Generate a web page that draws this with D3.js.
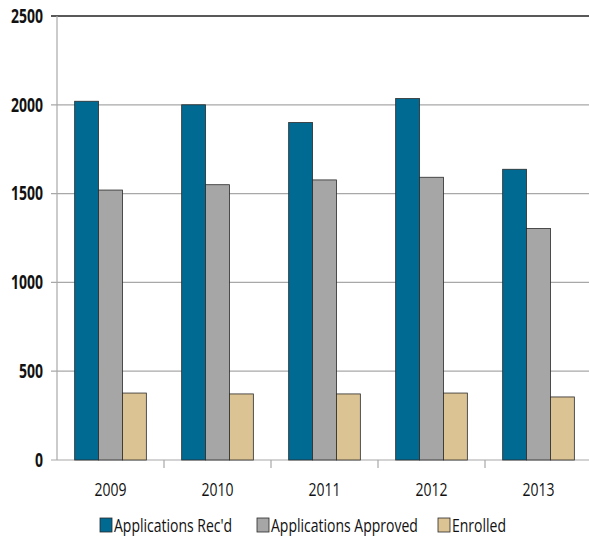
<!DOCTYPE html>
<html lang="en">
<head>
  <meta charset="UTF-8">
  <title>Applications and Enrollment</title>
  <script src="https://d3js.org/d3.v7.min.js"></script>
  <style>
    html, body { margin: 0; padding: 0; background: #fff; }
    svg { display: block; }
    .ylab { font: bold 14px "Open Sans", sans-serif; fill: #111; }
    .xlab, .leg { font: 14px "Open Sans", sans-serif; fill: #111; }
  </style>
</head>
<body>
<svg id="chart" width="589" height="539"></svg>
<script>
const years = ["2009", "2010", "2011", "2012", "2013"];
const seriesNames = ["Applications Rec'd", "Applications Approved", "Enrolled"];
const received = [2020, 2000, 1900, 2035, 1637];
const approved = [1520, 1550, 1577, 1592, 1303];
const enrolled = [377, 372, 372, 377, 355];
const yTicks = [0, 500, 1000, 1500, 2000, 2500];
const colors = ["#006a92", "#a6a6a6", "#dcc394"];

// the original picture is stretched vertically, so text is too
const stretch = 1.35;

const svg = d3.select("#chart"),
      margin = {left: 57, top: 16, right: -3, bottom: 79},
      width = +svg.attr("width") - margin.left - margin.right,
      height = +svg.attr("height") - margin.top - margin.bottom;

const series = [received, approved, enrolled];
const rows = years.map((y, i) => ({year: y, vals: series.map(s => s[i])}));

const x = d3.scaleBand().domain(years).range([0, width]).paddingInner(0).paddingOuter(0);
const x1 = d3.scaleBand().domain(d3.range(seriesNames.length))
  .range([x.bandwidth() * 0.165, x.bandwidth() * 0.835]);
const y = d3.scaleLinear().domain([0, 2500]).range([height, 0]);

const g = svg.append("g").attr("transform", `translate(${margin.left},${margin.top})`);

// gridlines
g.append("g").selectAll("line")
  .data(yTicks)
  .join("line")
    .attr("x1", -6).attr("x2", width)
    .attr("y1", d => y(d)).attr("y2", d => y(d))
    .attr("stroke", d => d === 2500 ? "#222" : "#a8a8a8")
    .attr("stroke-width", d => d === 2500 ? 1.5 : 1.2);

// y axis line
g.append("line")
  .attr("x1", 0).attr("x2", 0).attr("y1", 0).attr("y2", height)
  .attr("stroke", "#a8a8a8").attr("stroke-width", 1.2);

// y labels
g.append("g").selectAll("text")
  .data(yTicks)
  .join("text")
    .attr("class", "ylab")
    .attr("transform", d => `translate(-14,${y(d) + 6.7}) scale(1,${stretch})`)
    .attr("text-anchor", "end")
    .text(d => d);

// x tick marks at band edges
g.append("g").selectAll("line")
  .data(years.slice(1))
  .join("line")
    .attr("x1", d => x(d)).attr("x2", d => x(d))
    .attr("y1", height).attr("y2", height + 8)
    .attr("stroke", "#a8a8a8").attr("stroke-width", 1.2);

// bars
const grp = g.append("g").selectAll("g")
  .data(rows)
  .join("g")
    .attr("transform", d => `translate(${x(d.year)},0)`);

grp.selectAll("rect")
  .data(d => d.vals.map((v, i) => ({i, v})))
  .join("rect")
    .attr("x", d => x1(d.i))
    .attr("width", x1.bandwidth())
    .attr("y", d => y(d.v))
    .attr("height", d => y(0) - y(d.v))
    .attr("fill", d => colors[d.i])
    .attr("stroke", "#2a2a2a")
    .attr("stroke-width", 0.8);

// x labels
g.append("g").selectAll("text")
  .data(years)
  .join("text")
    .attr("class", "xlab")
    .attr("transform", d => `translate(${x(d) + x.bandwidth() / 2},${height + 36}) scale(1,${stretch})`)
    .attr("text-anchor", "middle")
    .text(d => d);

// legend
const legX = [100, 257, 438];
const leg = svg.append("g").selectAll("g")
  .data(seriesNames)
  .join("g")
    .attr("transform", (d, i) => `translate(${legX[i]},525)`);
leg.append("rect")
  .attr("x", 0).attr("y", -7).attr("width", 12).attr("height", 14)
  .attr("fill", (d, i) => colors[i])
  .attr("stroke", "#2a2a2a").attr("stroke-width", 0.8);
leg.append("text")
  .attr("class", "leg")
  .attr("transform", `translate(14,6.5) scale(1,${stretch})`)
  .text(d => d);
</script>
</body>
</html>
